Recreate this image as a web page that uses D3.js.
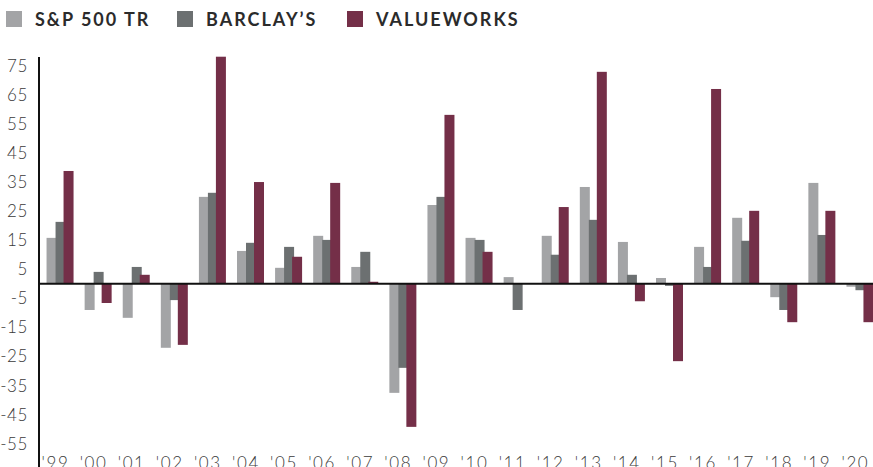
<!DOCTYPE html>
<html>
<head>
<meta charset="utf-8">
<script src="https://cdn.jsdelivr.net/npm/d3@7"></script>
<style>
  body { margin: 0; background: #fff; }
  svg { display: block; }
  .tick text { font-family: Lato, "Open Sans", sans-serif; font-weight: 300; fill: #3a3a3a; }
</style>
</head>
<body>
<svg id="chart" width="873" height="467"></svg>
<script>
// values
const years = ["'99", "'00", "'01", "'02", "'03", "'04", "'05", "'06", "'07", "'08", "'09",
               "'10", "'11", "'12", "'13", "'14", "'15", "'16", "'17", "'18", "'19", "'20"];
const seriesNames = ['S&P 500 TR', 'BARCLAY\u2019S', 'VALUEWORKS'];
const sp500 = [15.8, -9.0, -11.7, -22.0, 29.9, 11.3, 5.5, 16.5, 5.8, -37.5, 27.1,
               15.8, 2.3, 16.5, 33.3, 14.4, 2.0, 12.7, 22.7, -4.6, 34.7, -1.0];
const barclays = [21.3, 4.1, 5.8, -5.6, 31.3, 14.1, 12.7, 15.1, 11.0, -28.9, 29.9,
                  15.1, -9.0, 10.0, 22.0, 3.1, -0.7, 5.8, 14.8, -9.0, 16.8, -2.2];
const valueworks = [38.8, -6.6, 3.1, -21.0, 78.1, 35.0, 9.3, 34.7, 0.7, -49.2, 58.1,
                    11.0, 0, 26.4, 72.9, -6.0, -26.6, 67.0, 25.1, -13.2, 25.1, -13.2];
const yTicks = [75, 65, 55, 45, 35, 25, 15, 5, -5, -15, -25, -35, -45, -55];
const colors = ['#a3a4a6', '#6c7071', '#742f48'];

const svg = d3.select('#chart');
const axisX = 39;

const x = d3.scaleBand().domain(years).range([41, 879]);
const y = d3.scaleLinear().domain([-63, 78]).range([467, 57]);

const barW = 10;
const offsets = [0, 9, 17];
const groupW = 27;

const series = [sp500, barclays, valueworks];

// bars
series.forEach(function(vals, s) {
    svg.append('g')
        .selectAll('rect')
        .data(vals)
        .enter().append('rect')
        .attr('x', function(d, i) { return x(years[i]) + x.bandwidth() / 2 - groupW / 2 + offsets[s]; })
        .attr('y', function(d) { return y(Math.max(0, d)); })
        .attr('width', barW)
        .attr('height', function(d) { return Math.abs(y(d) - y(0)); })
        .attr('fill', colors[s]);
});

// y axis (labels only) + vertical line, plain hyphen for negatives
const yAxis = svg.append('g')
    .attr('transform', 'translate(' + axisX + ',0)')
    .call(d3.axisLeft(y).tickValues(yTicks).tickFormat(function(d) { return String(d); })
        .tickSize(0).tickPadding(11));
yAxis.select('.domain').remove();
yAxis.selectAll('text')
    .style('font-size', '17px')
    .style('letter-spacing', '0.6px');

svg.append('line')
    .attr('x1', axisX).attr('x2', axisX)
    .attr('y1', y(78)).attr('y2', 467)
    .attr('stroke', '#111').attr('stroke-width', 2);

// zero line
svg.append('line')
    .attr('x1', axisX).attr('x2', 873)
    .attr('y1', y(0)).attr('y2', y(0))
    .attr('stroke', '#111').attr('stroke-width', 2);

// x axis labels
const xAxis = svg.append('g')
    .attr('transform', 'translate(0,' + 457 + ')')
    .call(d3.axisBottom(x).tickSize(0).tickPadding(0));
xAxis.select('.domain').remove();
xAxis.selectAll('text')
    .style('font-size', '17px')
    .style('letter-spacing', '1.6px')
    .attr('dy', '0.71em')
    .attr('text-anchor', 'start')
    .attr('dx', -groupW / 2 - 5);

// legend
const legendX = [6, 177, 347];
const legend = svg.append('g')
    .selectAll('g')
    .data(seriesNames)
    .enter().append('g')
    .attr('transform', function(d, i) { return 'translate(' + legendX[i] + ',11)'; });
legend.append('rect')
    .attr('width', 16).attr('height', 16)
    .attr('fill', function(d, i) { return colors[i]; });
legend.append('text')
    .attr('x', 29).attr('y', 15)
    .text(function(d) { return d; })
    .style('font-family', 'Lato, "Open Sans", sans-serif')
    .style('font-weight', 'bold')
    .style('font-size', '18px')
    .style('letter-spacing', '2px')
    .style('fill', '#2b2b2b');
</script>
</body>
</html>
